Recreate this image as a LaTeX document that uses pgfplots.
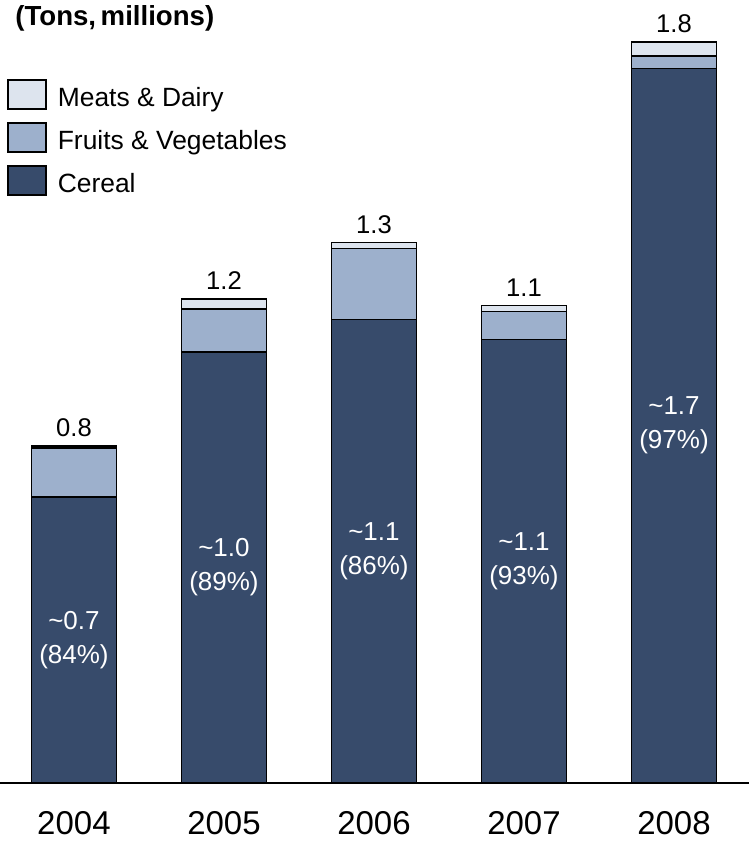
\documentclass[border=0pt]{standalone}
\usepackage{pgfplots}
\pgfplotsset{compat=1.18}
\usepackage{pgfplotstable}
\usepackage{fontspec}
\setmainfont{Liberation Sans}

\definecolor{cereal}{HTML}{374B6B}
\definecolor{fruit}{HTML}{9DB0CC}
\definecolor{meat}{HTML}{DDE4EE}

% label inside the cereal segment: approximate value and share of the total
\newcommand\lbl[2]{\textasciitilde#1\\(#2\%)}

% Food volumes by category, tons (millions)
\pgfplotstableread{
x cereal fruit meat total lab
0 0.695 0.119 0.005 0.8 \lbl{0.7}{84}
1 1.047 0.104 0.025 1.2 \lbl{1.0}{89}
2 1.126 0.172 0.015 1.3 \lbl{1.1}{86}
3 1.077 0.068 0.015 1.1 \lbl{1.1}{93}
4 1.736 0.030 0.034 1.8 \lbl{1.7}{97}
}\foodtable

\pgfplotsset{
  frame/.style={
    at={(0,0)}, anchor=south west,
    scale only axis, width=374.5pt, height=391.5pt,
    xmin=-0.493, xmax=4.5, ymin=0, ymax=1.902,
  },
}

\begin{document}
\begin{tikzpicture}
\useasboundingbox (0,-29.5pt) rectangle (374.5pt,391.5pt);

\begin{axis}[
  frame,
  ybar stacked, bar width=42.5pt,
  axis x line=bottom, axis y line=none,
  x axis line style={-, line width=1pt},
  xtick={0,1,2,3,4}, xticklabels={2004,2005,2006,2007,2008},
  major tick length=0pt, ytick=\empty,
  xticklabel style={font=\fontsize{16.5}{19}\selectfont, yshift=-10.5pt},
  every axis plot/.append style={draw=black, line width=0.75pt},
  legend image code/.code={\draw[#1] (0pt,-5.5pt) rectangle (19pt,9pt);},
  reverse legend,
  legend cell align=left,
  legend style={
    at={(rel axis cs:0.0093,0.899)}, anchor=north west,
    draw=none, fill=none, inner sep=0pt, row sep=6.25pt, column sep=5.5pt,
    font=\fontsize{13.2}{15}\selectfont,
    nodes={inner sep=0pt},
  },
  clip=false,
]
\addplot[fill=cereal] table[x=x, y=cereal] {\foodtable};
\addplot[fill=fruit] table[x=x, y=fruit] {\foodtable};
\addplot[fill=meat] table[x=x, y=meat] {\foodtable};
\legend{Cereal, Fruits \& Vegetables, Meats \& Dairy}

\node[anchor=base west, inner sep=0pt, font=\bfseries\fontsize{13.8}{16}\selectfont]
  at (rel axis cs:0.02,0.968) {(Tons,\,millions)};
\end{axis}

% value labels: totals above the bars, cereal share inside
\begin{axis}[frame, hide axis, clip=false]
\addplot[draw=none, mark=none, nodes near coords, point meta=explicit symbolic,
  nodes near coords style={anchor=center, align=center, text=white,
    font=\fontsize{13}{17}\selectfont}]
  table[x=x, y expr=\thisrow{cereal}/2, meta=lab] {\foodtable};
\addplot[draw=none, mark=none, nodes near coords, point meta=explicit symbolic,
  nodes near coords style={anchor=south, yshift=1pt,
    font=\fontsize{12.8}{15}\selectfont}]
  table[x=x, y expr=\thisrow{cereal}+\thisrow{fruit}+\thisrow{meat}, meta=total] {\foodtable};
\end{axis}
\end{tikzpicture}
\end{document}
